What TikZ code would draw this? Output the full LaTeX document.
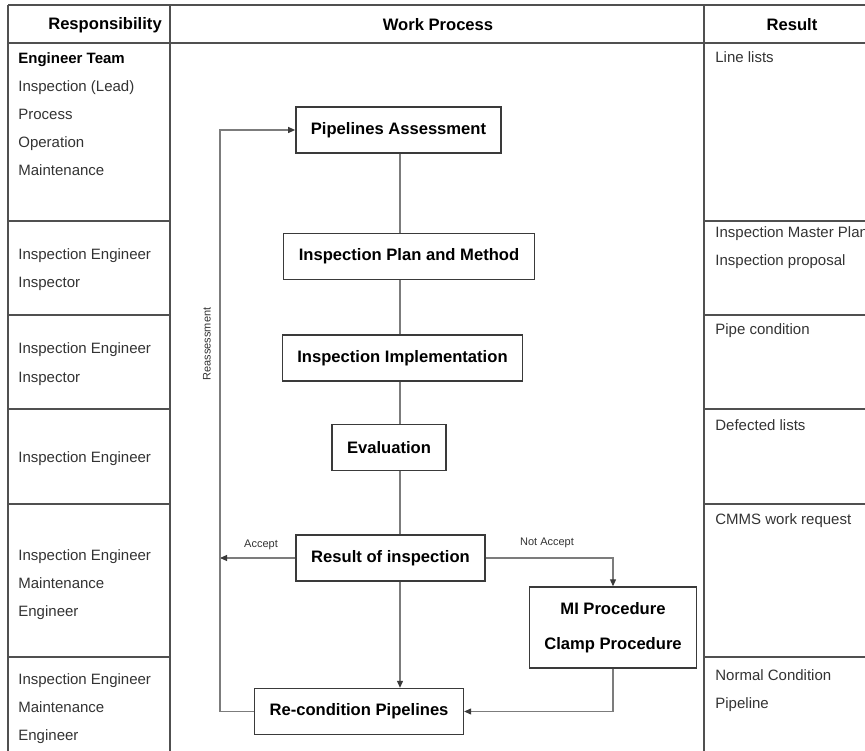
\documentclass[tikz,border=0pt]{standalone}
\usepackage{fontspec}
\setmainfont{Liberation Sans}
\usepackage{xcolor}
\usepackage{tikz}
\usetikzlibrary{arrows.meta,positioning}
\definecolor{gridgray}{HTML}{505050}
\definecolor{linegray}{HTML}{7C7C7C}
\definecolor{boxgray}{HTML}{3A3A3A}
\definecolor{textgray}{HTML}{333333}

\begin{document}
\begin{tikzpicture}[x=1pt,y=-1pt,thick,
	main node/.style={rectangle,draw=boxgray,line width=1.4pt,inner xsep=15pt,minimum height=46pt,font=\bfseries\fontsize{16.6}{20}\selectfont,text=black},
	head text/.style={font=\bfseries\fontsize{16.6}{20}\selectfont,text=black},
	cell text/.style={anchor=base west,inner sep=0pt,font=\fontsize{15}{18}\selectfont,text=textgray},
	edge label/.style={font=\fontsize{11}{13}\selectfont,text=textgray},
	grid line/.style={draw=gridgray,line width=1.3pt},
	flow line/.style={draw=linegray,line width=1.1pt},
	flow arrow/.style={flow line,-{Triangle[length=7pt,width=6pt,color=boxgray]}}]

			\useasboundingbox (0,0) rectangle (865,751);

			\draw[grid line] (8,5) -- (865,5) (8,43) -- (865,43)
			(8,5) -- (8,751) (170,5) -- (170,751) (704,5) -- (704,751);
			\foreach \y in {221,315,409,504,657}
			{
			\draw[grid line] (8,\y) -- (170,\y);
			\draw[grid line] (704,\y) -- (865,\y);
			}

			\node[head text] (h1) at (105,25) {Responsibility};
			\node[head text] (h2) at (438,25) {Work Process};
			\node[head text] (h3) at (792,25) {Result};

			\node[cell text,font=\bfseries\fontsize{15}{18}\selectfont,text=black] (l1) at (18,64) {Engineer Team};
			\node[cell text] (l2) at (18,92) {Inspection (Lead)};
			\node[cell text] (l3) at (18,120) {Process};
			\node[cell text] (l4) at (18,148) {Operation};
			\node[cell text] (l5) at (18,176) {Maintenance};
			\node[cell text] (l6) at (18,260) {Inspection Engineer};
			\node[cell text] (l7) at (18,288) {Inspector};
			\node[cell text] (l8) at (18,354) {Inspection Engineer};
			\node[cell text] (l9) at (18,382) {Inspector};
			\node[cell text] (l10) at (18,462) {Inspection Engineer};
			\node[cell text] (l11) at (18,560) {Inspection Engineer};
			\node[cell text] (l12) at (18,588) {Maintenance};
			\node[cell text] (l13) at (18,616) {Engineer};
			\node[cell text] (l14) at (18,684) {Inspection Engineer};
			\node[cell text] (l15) at (18,712) {Maintenance};
			\node[cell text] (l16) at (18,740) {Engineer};

			\node[cell text] (r1) at (715,63) {Line lists};
			\node[cell text] (r2) at (715,238) {Inspection Master Plan};
			\node[cell text] (r3) at (715,266) {Inspection proposal};
			\node[cell text] (r4) at (715,335) {Pipe condition};
			\node[cell text] (r5) at (715,430) {Defected lists};
			\node[cell text] (r6) at (715,524) {CMMS work request};
			\node[cell text] (r7) at (715,680) {Normal Condition};
			\node[cell text] (r8) at (715,708) {Pipeline};

			\node[main node] (1) at (398.5,130) {Pipelines Assessment};
			\node[main node] (2) [below of=1, node distance=126.5pt, xshift=10.5pt] {Inspection Plan and Method};
			\node[main node] (3) [below of=2, node distance=101.5pt, xshift=-6.5pt] {Inspection Implementation};
			\node[main node] (4) [below of=3, node distance=89.5pt, xshift=-13.5pt] {Evaluation};
			\node[main node] (5) [below of=4, node distance=110.5pt, xshift=1.5pt] {Result of inspection};
			\node[main node] (6) [right of=5, node distance=222.5pt, yshift=-69.5pt, minimum height=81pt, align=center, font=\bfseries\fontsize{16.6}{35}\selectfont] {MI Procedure\\Clamp Procedure};
			\node[main node] (7) [below of=5, node distance=153.5pt, xshift=-31.5pt] {Re-condition Pipelines};

			\coordinate (spine) at (400,0);
			\coordinate (loop) at (220,0);

			\draw[flow line] (1.south -| spine) -- (2.north -| spine)
			(2.south -| spine) -- (3.north -| spine)
			(3.south -| spine) -- (4.north -| spine)
			(4.south -| spine) -- (5.north -| spine);
			\draw[flow arrow] (5.south -| spine) -- (7.north -| spine);
			\draw[flow arrow] (5.west) -- (5.west -| loop);
			\draw[flow arrow] (5.east) -| (6.north);
			\draw[flow arrow] (6.south) |- (7.east);
			\draw[flow arrow] (7.west) -- (7.west -| loop) -- (1.west -| loop) -- (1.west);

			\node[edge label] (acc) at (261,545) {Accept};
			\node[edge label] (nacc) at (547,543) {Not Accept};
			\node[edge label,rotate=90] (reas) at (207,344) {Reassessment};

		\end{tikzpicture}
\end{document}
